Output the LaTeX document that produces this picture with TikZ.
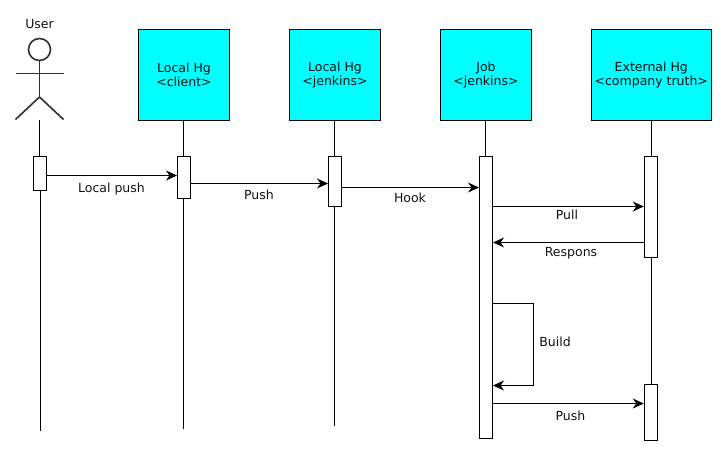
\documentclass[tikz,border=0pt]{standalone}
\usepackage{fontspec}
\setmainfont{DejaVu Sans}
\usetikzlibrary{arrows.meta, backgrounds}
\definecolor{my_cyan}{HTML}{00FFFF}
\definecolor{my_actor}{HTML}{303030}
\definecolor{my_text}{HTML}{101010}
\begin{document}
\begin{tikzpicture}[
    x=1pt, y=-1pt,
    line width=1pt,
    head/.style={draw, fill=my_cyan, minimum width=91pt, minimum height=91pt, inner sep=0pt,
        align=center, font=\fontsize{12.5}{14}\selectfont, text=my_text},
    act/.style={draw, fill=white, minimum width=13pt, inner sep=0pt},
    msg/.style={-{Stealth[length=11pt, width=10pt, inset=3.5pt]}},
    lbl/.style={font=\fontsize{12.5}{14}\selectfont, text=my_text, inner sep=0pt},
    stick/.style={my_actor, line width=1.6pt}
]
\useasboundingbox (0, 0) rectangle (726, 458);

% ---- Koepfe ----
\node[lbl] (userName) at (39.5, 24.5) {User};
\node[head] (clientHead) at (184, 75) {Local Hg\\<client>};
\node[head] (jenkinsHead) at (335, 75) {Local Hg\\<jenkins>};
\node[head] (jobHead) at (486, 75) {Job\\<jenkins>};
\node[head, minimum width=120pt] (extHead) at (651.3, 75) {External Hg\\<company truth>};

% ---- Strichmann ----
\node[draw, stick, circle, minimum size=22pt, inner sep=0pt] (userFace) at (39.5, 49.5) {};
\coordinate (userHip) at (39.5, 97);
\coordinate (userFoot) at (39.5, 120);
\draw[stick] (userFace) -- (userHip);
\draw[stick] (15.5, 73.5) -- (63.5, 73.5);
\draw[stick] (15.5, 119.5) -- (userHip) -- (63.5, 119.5);

% ---- Lebenslinien ----
\coordinate (userEnd) at (40.5, 431);
\coordinate (clientEnd) at (183.5, 429);
\coordinate (jenkinsEnd) at (334.5, 426);
\draw (userFoot) -- (39.5, 157);
\draw (40.5, 190) -- (userEnd);
\draw (clientHead.south -| clientEnd) -- (clientEnd);
\draw (jenkinsHead.south -| jenkinsEnd) -- (jenkinsEnd);
\draw (jobHead.south -| 485.5, 0) -- (485.5, 157);
\draw (extHead) -- (651.3, 385);

% ---- Aktivierungen ----
\node[act, minimum height=34pt] (userAct) at (40, 173.5) {};
\node[act, minimum height=42pt] (clientAct) at (184, 177.5) {};
\node[act, minimum height=50pt] (jenkinsAct) at (335, 181.5) {};
\node[act, minimum height=282pt] (jobAct) at (486, 297.5) {};
\node[act, minimum height=101pt] (extAct) at (650.8, 206.8) {};
\node[act, minimum height=56pt] (extActLow) at (650.8, 412.3) {};

% ---- Nachrichten ----
\coordinate (localPush) at (0, 175.5);
\coordinate (push) at (0, 183.5);
\coordinate (hook) at (0, 187.5);
\coordinate (pull) at (0, 206.5);
\coordinate (respons) at (0, 242.5);
\coordinate (buildTop) at (533.5, 303.5);
\coordinate (buildLow) at (533.5, 385.5);
\coordinate (pushExt) at (0, 403.5);

\draw[msg] (userAct.east |- localPush) -- (clientAct.west |- localPush);
\draw[msg] (clientAct.east |- push) -- (jenkinsAct.west |- push);
\draw[msg] (jenkinsAct.east |- hook) -- (jobAct.west |- hook);
\draw[msg] (jobAct.east |- pull) -- (extAct.west |- pull);
\draw[msg] (extAct.west |- respons) -- (jobAct.east |- respons);
\draw[msg] (jobAct.east |- buildTop) -- (buildTop) -- (buildLow) -- (jobAct.east |- buildLow);
\draw[msg] (jobAct.east |- pushExt) -- (extActLow.west |- pushExt);

% ---- Beschriftungen ----
\node[lbl] (localPushText) at (111.5, 189) {Local push};
\node[lbl] (pushText) at (259, 195) {Push};
\node[lbl] (hookText) at (410, 198) {Hook};
\node[lbl] (pullText) at (567, 215) {Pull};
\node[lbl] (responsText) at (571, 253) {Respons};
\node[lbl] (buildText) at (555, 342) {Build};
\node[lbl] (pushExtText) at (570.5, 416) {Push};

\end{tikzpicture}
\end{document}
